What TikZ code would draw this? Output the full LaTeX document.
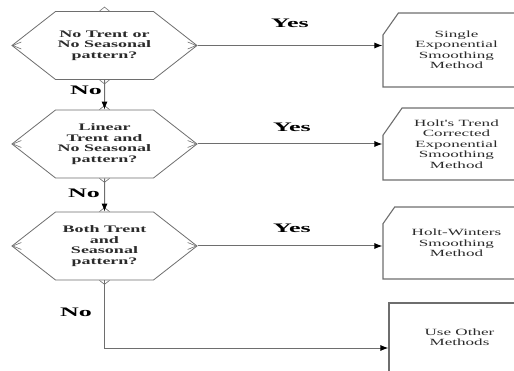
\documentclass[tikz,border=0pt]{standalone}
\usepackage{fontspec}
\newfontfamily\flowfont[FakeStretch=1.8]{Liberation Serif}
\newfontfamily\labelfont[FakeStretch=2]{Liberation Serif}
\usetikzlibrary{positioning,arrows.meta,shapes.symbols,shapes.misc}
\definecolor{fcLine}{HTML}{6E6E6E}
\definecolor{fcText}{HTML}{2B2B2B}
\tikzset{
  fc-hex/.style={
    signal, signal to=west and east, signal pointer angle=76,
    draw=fcLine, line width=0.8pt, fill=white, align=center,
    text=fcText, font=\flowfont\bfseries\fontsize{10}{10.5}\selectfont,
    minimum width=185pt, minimum height=68pt, inner sep=0pt
  },
  fc-box/.style={
    chamfered rectangle, chamfered rectangle corners=north west,
    chamfered rectangle xsep=20pt, chamfered rectangle angle=35,
    draw=fcLine, line width=1.1pt, fill=white, align=center,
    text=fcText, font=\flowfont\fontsize{9.5}{10.5}\selectfont,
    minimum width=147pt, inner sep=0pt
  },
  fc-plain/.style={fc-box, rectangle},
  fc-mark/.style={draw=fcLine, line width=0.6pt},
  fc-flow/.style={draw=fcLine, line width=1pt,
    -{Latex[length=8pt,width=6pt,color=black]}},
  fc-label/.style={font=\labelfont\bfseries\fontsize{13}{13}\selectfont,
    text=black, inner sep=0pt}
}
\begin{document}
\begin{tikzpicture}[x=1pt, y=-1pt]
\useasboundingbox (0,0) rectangle (514,371);

% Questions
\node[fc-hex] (qA) at (104.5,45.5) {No Trent or\\ No Seasonal\\ pattern?};
\node[fc-hex] (qB) at (104.5,144) {Linear\\ Trent and\\ No Seasonal\\ pattern?};
\node[fc-hex] (qC) at (104.5,246) {Both Trent\\ and\\ Seasonal\\ pattern?};

% Methods
\node[fc-box, minimum height=74pt] (bA) at (456.5,50)
  {Single\\ Exponential\\ Smoothing\\ Method};
\node[fc-box, minimum height=72pt] (bB) at (456.5,144)
  {Holt's Trend\\ Corrected\\ Exponential\\ Smoothing\\ Method};
\node[fc-box, minimum height=72pt] (bC) at (456.5,243)
  {Holt-Winters\\ Smoothing\\ Method};
\node[fc-plain, minimum width=141pt, minimum height=69pt] (bD) at (459.5,337.5)
  {Use Other\\ Methods};

% Labels
\node[fc-label] (yA) at (290,23) {Yes};
\node[fc-label] (yB) at (292,127) {Yes};
\node[fc-label] (yC) at (292,228) {Yes};
\node[fc-label] (nA) at (86,90) {No};
\node[fc-label] (nB) at (84,193) {No};
\node[fc-label] (nC) at (76,312) {No};

% connection marks
\foreach \q in {qA,qB,qC} {
  \draw[fc-mark] ([xshift=10pt,yshift=3.5pt]\q.west) -- ([xshift=1.5pt]\q.west)
    -- ([xshift=10pt,yshift=-3.5pt]\q.west);
  \draw[fc-mark] ([xshift=-10pt,yshift=3.5pt]\q.east) -- ([xshift=-1.5pt]\q.east)
    -- ([xshift=-10pt,yshift=-3.5pt]\q.east);
  \draw[fc-mark] ([xshift=-5pt]\q.north) -- ([yshift=4pt]\q.north)
    -- ([xshift=5pt]\q.north);
  \draw[fc-mark] ([xshift=-5pt]\q.south) -- ([yshift=-4pt]\q.south)
    -- ([xshift=5pt]\q.south);
}

\draw[fc-flow] (qA.east) -- (qA.east -| bA.west);
\draw[fc-flow] (qB.east) -- (qB.east -| bB.west);
\draw[fc-flow] (qC.east) -- (qC.east -| bC.west);
\draw[fc-flow] (qA) -- (qB);
\draw[fc-flow] (qB) -- (qC);
\draw[fc-flow] (qC) |- ([yshift=-10.5pt]bD.west);
\end{tikzpicture}
\end{document}
